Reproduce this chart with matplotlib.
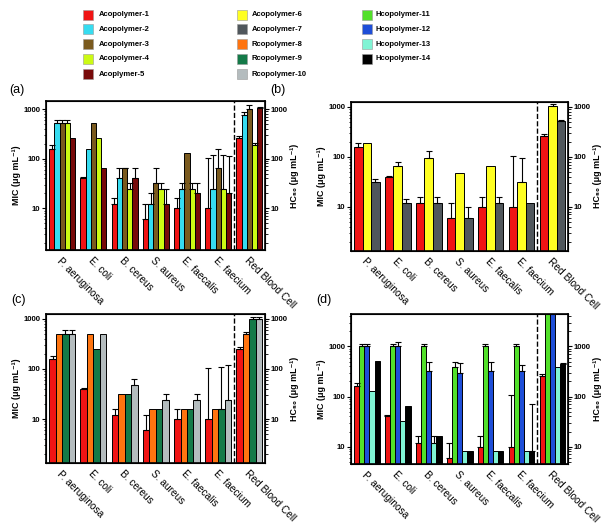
import matplotlib
matplotlib.use("Agg")
import matplotlib.pyplot as plt
from matplotlib.patches import Rectangle
import numpy as np

plt.rcParams["font.family"] = ["Liberation Sans", "DejaVu Sans"]

groups = ["P. aeruginosa", "E. coli", "B. cereus", "S. aureus",
          "E. faecalis", "E. faecium", "Red Blood Cell"]

# MIC values (last entry = HC50 on red blood cells), ug/mL
a1 = [160, 40, 12, 6, 10, 10, 256]
a1_err = [185, 42, 16, 12, 16, 105, 280]
a2 = [512, 160, 40, 12, 24, 24, 760]
a2_err = [600, None, 64, 20, 32, 120, 860]
a3 = [512, 512, 64, 32, 128, 64, 1000]
a3_err = [600, None, 64, 64, None, 160, 1200]
a4 = [512, 256, 24, 24, 24, 24, 190]
a4_err = [600, None, 32, 32, 32, 120, 210]
a5 = [256, 64, 40, 12, 20, 20, 1030]
a5_err = [None, None, 64, 24, 32, 115, 1100]
a6 = [192, 64, 96, 48, 64, 32, 1024]
a6_err = [None, 80, 128, None, None, 96, 1120]
a7 = [32, 12, 12, 6, 12, 12, 512]
a7_err = [36, 14, 16, 10, 16, None, 540]
r8 = [512, 512, 32, 16, 16, 16, 512]
r8_err = [None, None, None, None, None, None, 540]
r9 = [512, 256, 32, 16, 16, 16, 1000]
r9_err = [600, None, None, None, None, 110, 1100]
r10 = [512, 512, 48, 24, 24, 24, 1000]
r10_err = [600, None, 64, 32, 32, 120, 1100]
h11 = [1000, 1000, 1000, 384, 1000, 1000, 6000]
h11_err = [1100, 1100, 1100, 500, 1100, 1100, None]
h12 = [1000, 1000, 320, 290, 320, 320, 6000]
h12_err = [1100, 1230, 500, 470, 500, 430, None]
h13 = [128, 32, 12, 8, 8, 8, 384]
h13_err = [None, None, 16, None, None, None, None]
h14 = [512, 64, 16, 8, 8, 8, 450]
h14_err = [None, None, None, None, None, 72, 470]

names = ["Acopolymer-1", "Acopolymer-2", "Acopolymer-3", "Acopolymer-4", "Acoplymer-5",
         "Acopolymer-6", "Acopolymer-7", "Rcopolymer-8", "Rcopolymer-9", "Rcopolymer-10",
         "Hcopolymer-11", "Hcopolymer-12", "Hcopolymer-13", "Hcopolymer-14"]
colors = ["#f01414", "#36dcf0", "#7a5a1e", "#ccfa14", "#780a0a",
          "#ffff22", "#50575c", "#ff7410", "#147a48", "#b4bcbe",
          "#52e02a", "#1e4ed8", "#80f4d4", "#000000"]

fig = plt.figure(figsize=(6.14, 5.26), dpi=100)


def panel(rect, series, errs, cidx, ylim, label, lpos):
    ax = fig.add_axes(rect)
    n = len(series)
    gw = 0.83
    w = gw / n
    x = np.arange(len(groups))
    for k in range(n):
        xs = x - gw / 2 + w * (k + 0.5)
        ax.bar(xs, series[k], width=w, color=colors[cidx[k]],
               edgecolor="black", linewidth=0.7, zorder=2)
        ex = [xs[i] for i in range(len(groups)) if errs[k][i] is not None]
        ey = [series[k][i] for i in range(len(groups)) if errs[k][i] is not None]
        eu = [errs[k][i] - series[k][i] for i in range(len(groups)) if errs[k][i] is not None]
        ax.errorbar(ex, ey, yerr=[np.zeros(len(eu)), eu], fmt="none",
                    ecolor="black", elinewidth=0.8, capsize=2, capthick=0.8, zorder=3)
    ax.set_yscale("log")
    ax.set_ylim(*ylim)
    ax.set_xlim(-0.52, 6.5)
    ax.axvline(5.5, color="black", linestyle="--", linewidth=1.0, zorder=4)
    ax.set_xticks(x)
    ax.set_xticklabels(groups, rotation=-45, ha="left", va="top",
                       rotation_mode="anchor", fontsize=7.3)
    ax.tick_params(axis="x", length=0, pad=4)
    ax.tick_params(axis="y", which="major", length=3, width=0.8, labelsize=5.6,
                   direction="out", pad=1)
    ax.tick_params(axis="y", which="minor", length=1.8, width=0.6, direction="out")
    ax.set_yticks([10, 100, 1000])
    ax.set_yticklabels(["10", "100", "1000"], fontweight="bold")
    ax.set_ylabel("MIC (μg mL⁻¹)", fontsize=6.4, fontweight="bold", labelpad=1.5)
    for s in ax.spines.values():
        s.set_linewidth(1.2)
    ax2 = ax.twinx()
    ax2.set_yscale("log")
    ax2.set_ylim(*ylim)
    ax2.set_yticks([10, 100, 1000])
    ax2.set_yticklabels(["10", "100", "1000"], fontweight="bold")
    ax2.tick_params(axis="y", which="major", length=3, width=0.8, labelsize=5.6,
                    direction="out", pad=1)
    ax2.tick_params(axis="y", which="minor", length=1.8, width=0.6, direction="out")
    ax2.set_ylabel("HC₅₀ (μg mL⁻¹)", fontsize=6.4, fontweight="bold", labelpad=2)
    fig.text(lpos[0] / 614, 1 - lpos[1] / 526, label, fontsize=9, va="center")
    return ax


panel([0.0749, 0.5247, 0.3567, 0.2833], [a1, a2, a3, a4, a5],
      [a1_err, a2_err, a3_err, a4_err, a5_err], [0, 1, 2, 3, 4], (1.45, 1450), "(a)", (9, 90))
panel([0.5712, 0.5234, 0.3539, 0.2827], [a1, a6, a7],
      [a1_err, a6_err, a7_err], [0, 5, 6], (1.32, 1250), "(b)", (270, 90))
panel([0.0749, 0.1198, 0.3567, 0.2833], [a1, r8, r9, r10],
      [a1_err, r8_err, r9_err, r10_err], [0, 7, 8, 9], (1.32, 1260), "(c)", (11, 300))
panel([0.5712, 0.1179, 0.3539, 0.2852], [a1, h11, h12, h13, h14],
      [a1_err, h11_err, h12_err, h13_err, h14_err], [0, 10, 11, 12, 13], (4.5, 4450), "(d)", (316, 300))

# legend, three columns
col_sq = [83, 237, 362]
col_tx = [99, 252, 375]
rows = [15, 29.5, 44, 59, 74]
cols_items = [range(0, 5), range(5, 10), range(10, 14)]
for c, items in enumerate(cols_items):
    for r, i in enumerate(items):
        y = rows[r]
        fig.add_artist(Rectangle((col_sq[c] / 614, 1 - (y + 4.5) / 526), 9.5 / 614, 9.5 / 526,
                                 transform=fig.transFigure, facecolor=colors[i],
                                 edgecolor="#999999", linewidth=0.4))
        fig.text(col_tx[c] / 614, 1 - y / 526, names[i], fontsize=5.5,
                 fontweight="bold", va="center", ha="left")

fig.savefig("out.png", dpi=100)
